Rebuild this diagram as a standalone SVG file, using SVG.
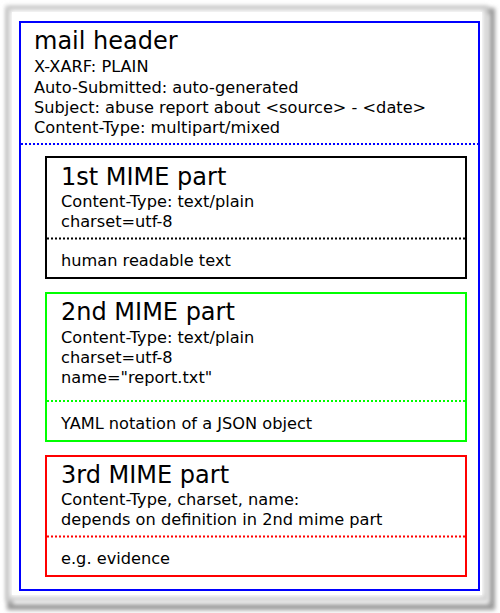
<svg xmlns="http://www.w3.org/2000/svg" width="500" height="613" viewBox="0 0 500 613">
  <defs>
    <filter id="blur" x="-5%" y="-5%" width="110%" height="110%">
      <feGaussianBlur stdDeviation="2"/>
    </filter>
  </defs>
  <style>
    text { font-family: "DejaVu Sans", "Liberation Sans", sans-serif; fill: #000; }
    .title { font-size: 24px; }
    .body { font-size: 16.2px; }
    .box { fill: none; stroke-width: 2; }
    .dot { stroke-width: 2; stroke-dasharray: 2 2; fill: none; }
  </style>
  <rect width="500" height="613" fill="#fff"/>
  <g id="frame">
    <rect x="10" y="11" width="482" height="596" fill="none" stroke="#999" stroke-width="6" filter="url(#blur)"/>
    <rect x="8" y="8" width="478" height="591" fill="#fff" stroke="#cfcfcf" stroke-width="5" filter="url(#blur)"/>
    <rect x="12" y="12" width="470" height="583" fill="#fff"/>
  </g>
  <g id="mail-header">
    <rect class="box" x="20" y="22" width="459" height="568" stroke="#0000ff"/>
    <text class="title" x="34" y="49">mail header</text>
    <text class="body" x="34" y="72">X-XARF: PLAIN</text>
    <text class="body" x="34" y="92.5">Auto-Submitted: auto-generated</text>
    <text class="body" x="34" y="112.5">Subject: abuse report about &lt;source&gt; - &lt;date&gt;</text>
    <text class="body" x="34" y="132.5">Content-Type: multipart/mixed</text>
    <line class="dot" x1="21" y1="144" x2="478" y2="144" stroke="#0000ff"/>
  </g>
  <g id="part1">
    <rect class="box" x="46" y="157" width="420" height="121" stroke="#000"/>
    <text class="title" x="61" y="185">1st MIME part</text>
    <text class="body" x="61" y="207">Content-Type: text/plain</text>
    <text class="body" x="61" y="227">charset=utf-8</text>
    <line class="dot" x1="47" y1="238.5" x2="465" y2="238.5" stroke="#000"/>
    <text class="body" x="61" y="265.5">human readable text</text>
  </g>
  <g id="part2">
    <rect class="box" x="46" y="293" width="420" height="148" stroke="#00ff00"/>
    <text class="title" x="61" y="320">2nd MIME part</text>
    <text class="body" x="61" y="342.5">Content-Type: text/plain</text>
    <text class="body" x="61" y="362.5">charset=utf-8</text>
    <text class="body" x="61" y="382.5">name="report.txt"</text>
    <line class="dot" x1="47" y1="401" x2="465" y2="401" stroke="#00ff00"/>
    <text class="body" x="61" y="428.5">YAML notation of a JSON object</text>
  </g>
  <g id="part3">
    <rect class="box" x="46" y="456" width="420" height="120" stroke="#ff0000"/>
    <text class="title" x="61" y="482.5">3rd MIME part</text>
    <text class="body" x="61" y="504.5">Content-Type, charset, name:</text>
    <text class="body" x="61" y="524.5">depends on definition in 2nd mime part</text>
    <line class="dot" x1="47" y1="536.5" x2="465" y2="536.5" stroke="#ff0000"/>
    <text class="body" x="61" y="563.5">e.g. evidence</text>
  </g>
  <g id="connectors"/>
</svg>
